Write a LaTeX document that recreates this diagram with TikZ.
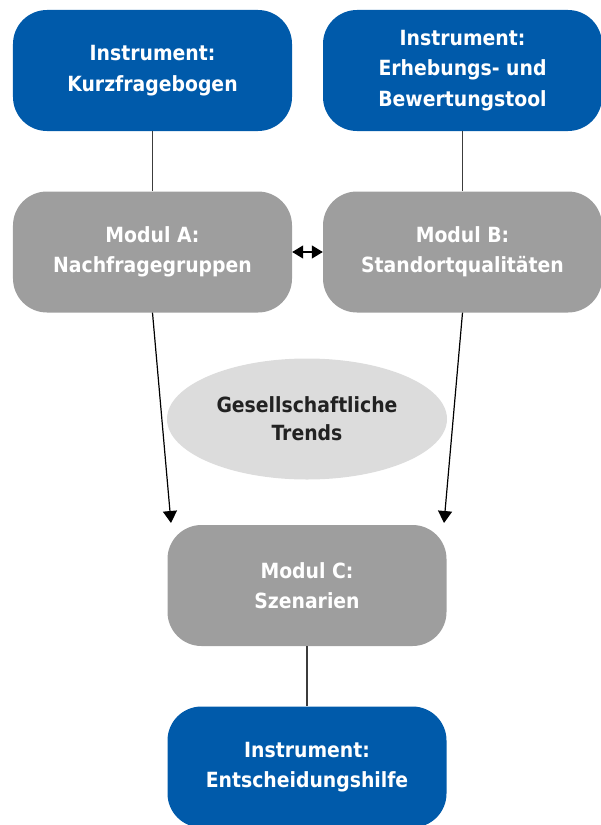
\documentclass[tikz,border=0pt]{standalone}
\usepackage{fontspec}
\setmainfont{DejaVu Sans Condensed}
\usetikzlibrary{shapes.geometric,arrows.meta}
\definecolor{boxblue}{RGB}{0,90,170}
\definecolor{boxgray}{RGB}{158,158,158}
\definecolor{ellgray}{RGB}{220,220,220}
\definecolor{txtdark}{RGB}{34,34,34}
\definecolor{linegray}{RGB}{60,60,60}
\tikzset{
  x=1bp, y=-1bp,
  base/.style={rounded corners=34bp, minimum width=279bp, minimum height=121bp, align=center, font=\fontsize{21}{30.5}\selectfont\bfseries, text=white, inner sep=0pt},
  bluebox/.style={base, fill=boxblue},
  graybox/.style={base, fill=boxgray},
  trend/.style={ellipse, fill=ellgray, minimum width=280bp, minimum height=121bp, align=center, font=\fontsize{21}{28}\selectfont\bfseries, text=txtdark, inner sep=0pt},
  conn/.style={draw=linegray, line width=1.2bp},
  arr/.style={conn, -{Triangle[length=12bp,width=14bp]}, draw=black},
}
\begin{document}
\begin{tikzpicture}
\useasboundingbox (0,0) rectangle (601,825);
\node[bluebox] (i1) at (152.5,70.5) {Instrument:\\Kurzfragebogen};
\node[bluebox] (i2) at (462.5,70.5) {Instrument:\\Erhebungs- und\\Bewertungstool};
\node[graybox] (ma) at (152.5,252) {Modul A:\\Nachfragegruppen};
\node[graybox] (mb) at (462.5,252) {Modul B:\\Standortqualitäten};
\node[trend] (tr) at (307,419) {Gesellschaftliche\\Trends};
\node[graybox] (mc) at (307,585.5) {Modul C:\\Szenarien};
\node[bluebox] (i3) at (307,767) {Instrument:\\Entscheidungshilfe};
\coordinate (ta) at (171,523);
\coordinate (tb) at (444,523);
\draw[conn] (i1.south) -- (ma.north);
\draw[conn] (i2.south) -- (mb.north);
\draw[arr] (ma.south) -- (ta);
\draw[arr] (mb.south) -- (tb);
\draw[conn] (mc.south) -- (i3.north);
\draw[conn, draw=black, {Triangle[length=11bp,width=13bp]}-{Triangle[length=11bp,width=13bp]}] (ma.east) -- (mb.east -| mb.west);
\end{tikzpicture}
\end{document}
